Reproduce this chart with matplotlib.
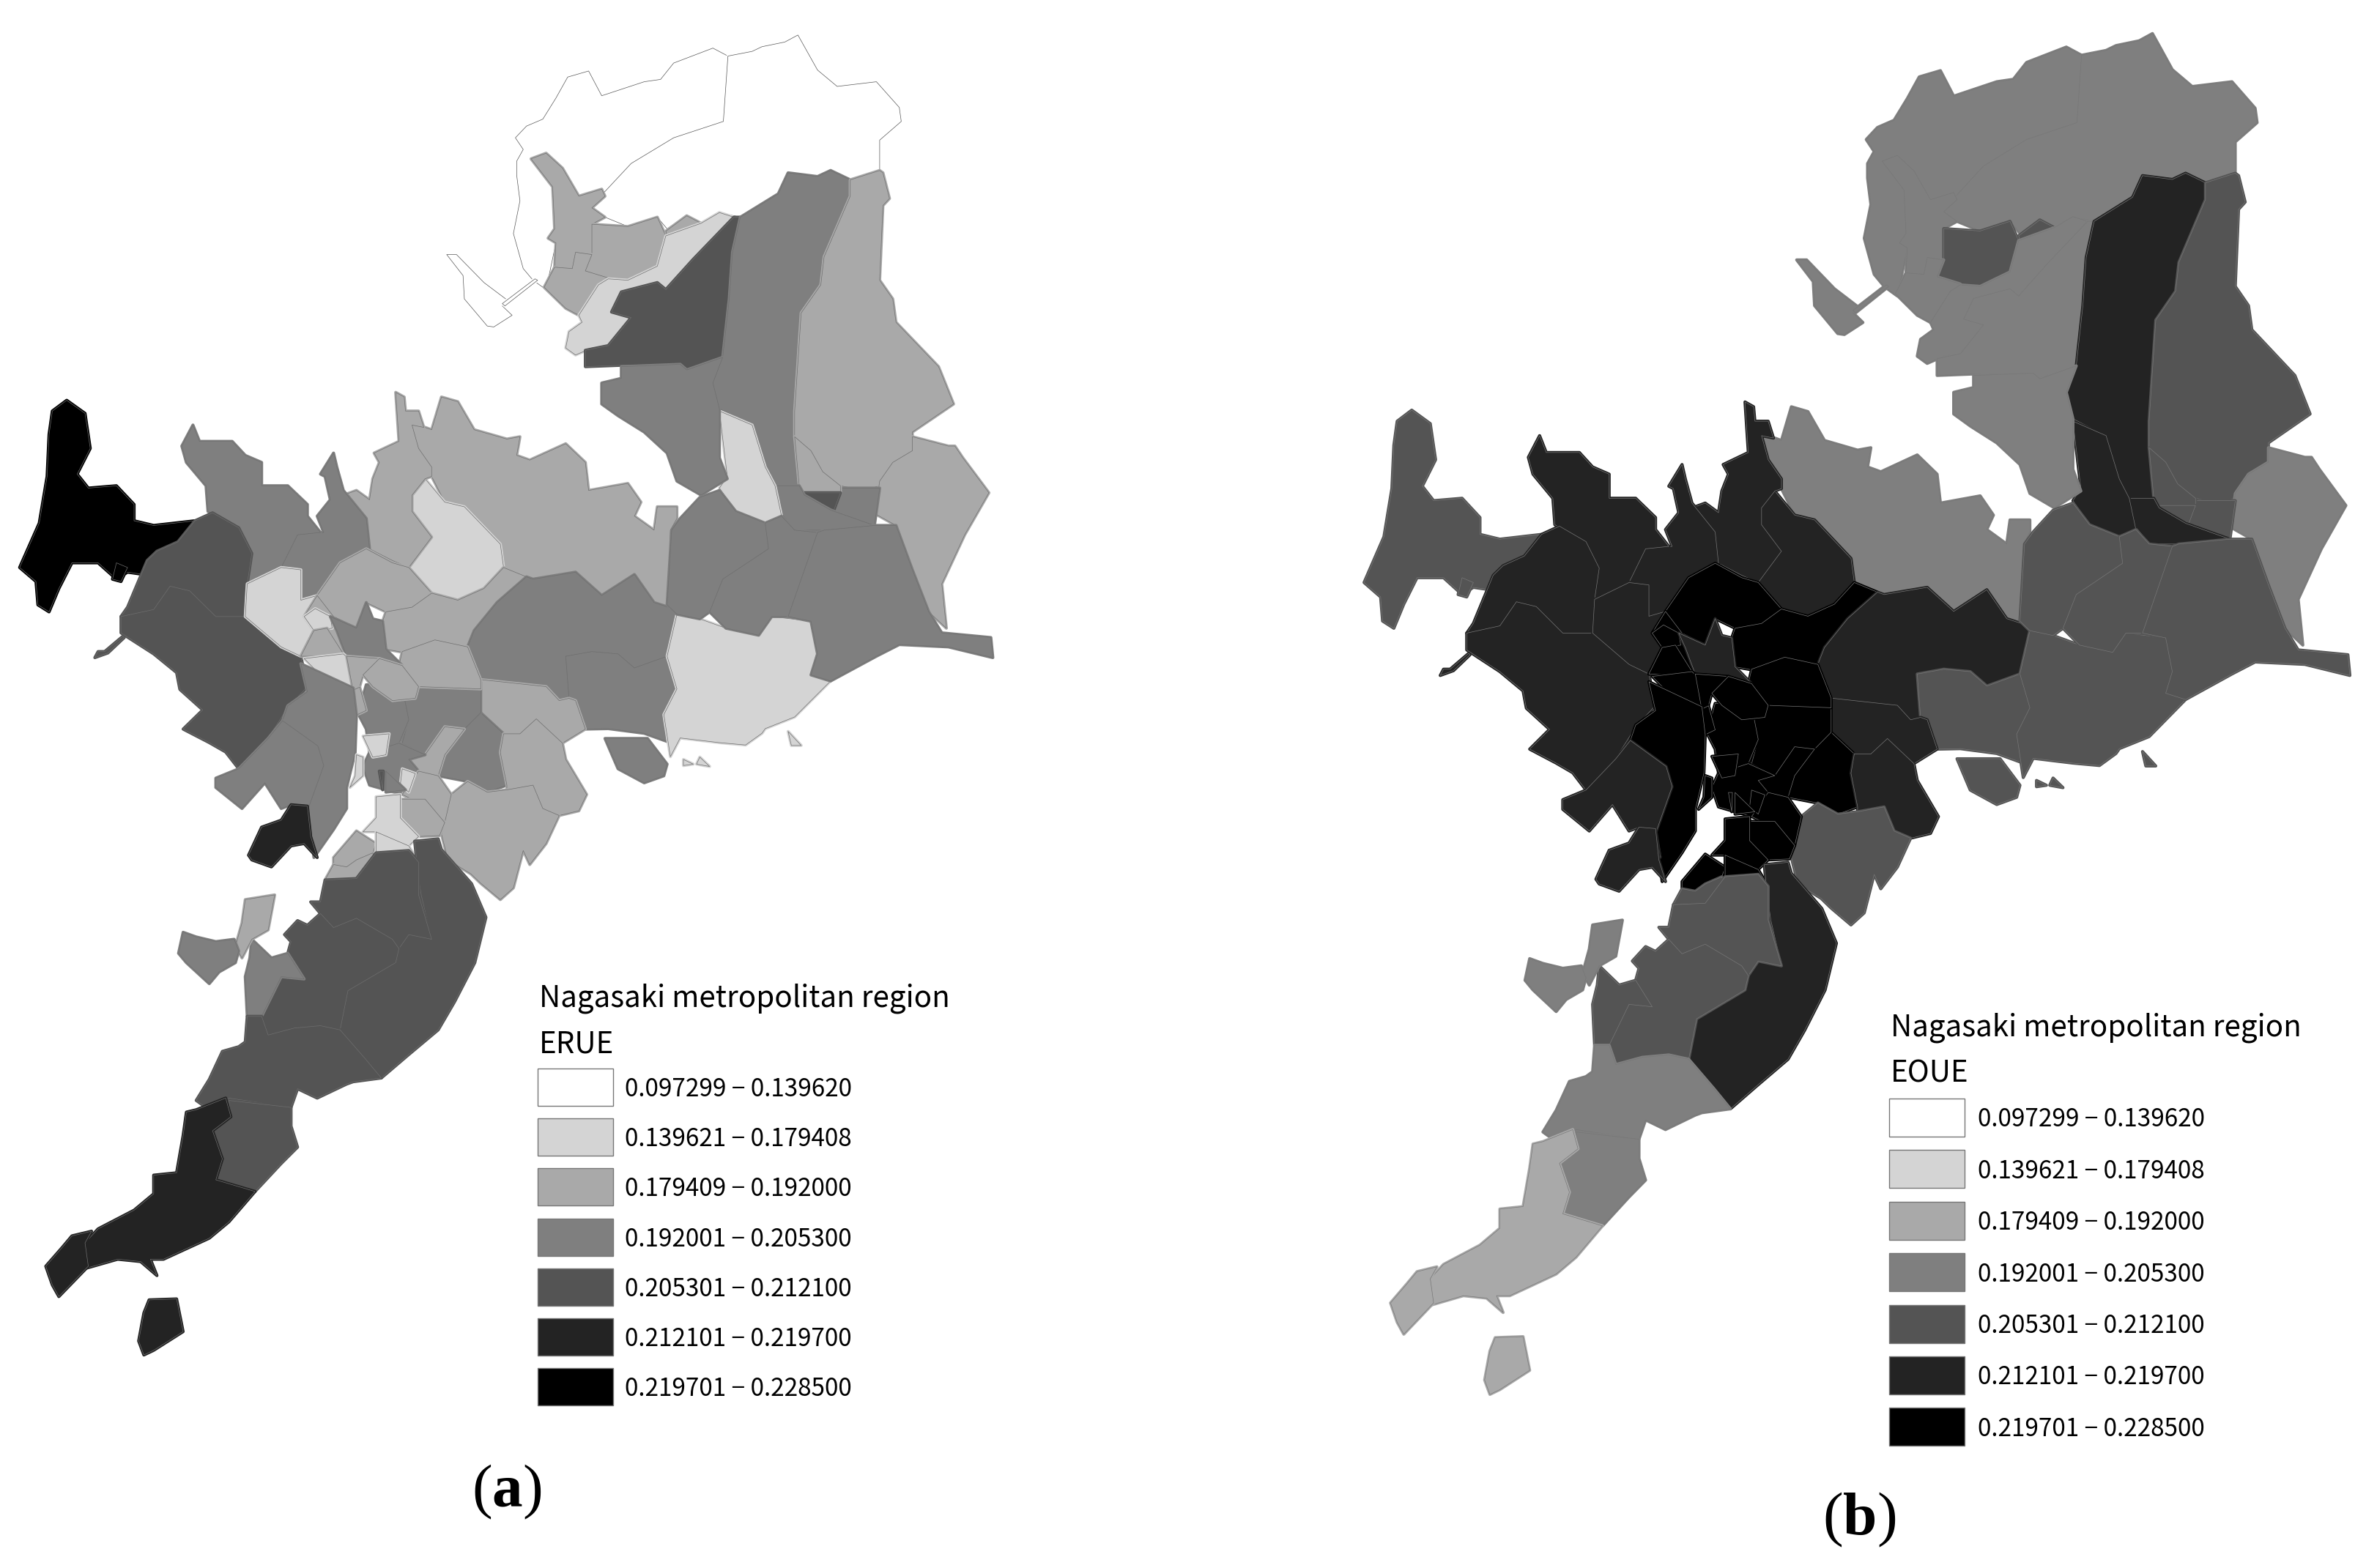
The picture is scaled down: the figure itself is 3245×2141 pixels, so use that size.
import matplotlib
matplotlib.use('Agg')
import matplotlib.pyplot as plt

plt.rcParams['mathtext.fontset'] = 'custom'
plt.rcParams['mathtext.bf'] = 'Liberation Serif:bold'
plt.rcParams['mathtext.rm'] = 'Liberation Serif'

# -------------- Legend data ----------------
class_labels = ["0.097299 − 0.139620", "0.139621 − 0.179408", "0.179409 − 0.192000",
                "0.192001 − 0.205300", "0.205301 − 0.212100", "0.212101 − 0.219700",
                "0.219701 − 0.228500"]
class_colors = ['#ffffff', '#d4d4d4', '#a9a9a9', '#7f7f7f', '#545454', '#232323', '#000000']


def low(pts):
    return [(x, y + 1411) for x, y in pts]


# -------------- Region outlines ----------------
north_left = [(790,345),(800,320),(788,295),(805,270),(830,255),(850,210),(868,165),(900,152),(920,205),(985,175),(1010,170),(1030,135),(1090,103),(1113,120),(1106,260),(1030,295),(965,350),(925,410),(890,440),(850,400),(848,500),(850,520),(835,620),(815,600),(800,575),(785,500),(795,430),(790,375)]
north_right = [(1113,120),(1150,110),(1165,100),(1200,90),(1220,75),(1250,150),(1280,185),(1340,175),(1375,230),(1378,260),(1345,300),(1345,365),(1300,385),(1270,365),(1250,378),(1205,370),(1190,415),(1132,465),(1100,455),(1072,478),(1050,462),(1020,490),(1005,465),(960,485),(925,465),(890,440),(925,410),(965,350),(1030,295),(1106,260)]
pier_island = [(683,545),(698,545),(740,605),(778,645),(768,655),(783,675),(755,700),(745,698),(710,640),(708,590)]
pier_link = [(768,650),(818,597),(822,600),(772,655)]
gray_strip = [(812,340),(835,328),(860,360),(885,420),(920,405),(925,420),(905,445),(925,465),(905,480),(905,545),(880,540),(875,575),(848,572),(850,520),(838,510),(848,490),(845,400)]
inner_block = [(905,480),(960,485),(1005,465),(1018,505),(1005,570),(960,600),(930,595),(895,580),(905,545)]
inner_arm = [(1018,495),(1050,462),(1072,478),(1020,505)]
west_shore = [(848,572),(875,575),(880,540),(905,545),(895,580),(930,595),(915,610),(885,675),(865,660),(832,615)]
light_strip = [(1072,478),(1100,455),(1122,465),(1060,555),(1018,620),(1005,605),(950,625),(935,668),(965,680),(930,740),(905,745),(880,760),(865,745),(870,710),(890,690),(885,675),(915,610),(930,597),(960,600),(1005,570),(1018,505)]
dark_wedge = [(1132,465),(1120,540),(1115,640),(1105,765),(1050,790),(1040,780),(950,782),(895,785),(895,750),(930,740),(965,680),(935,668),(950,625),(1005,605),(1018,620),(1060,555),(1122,465)]
column = [(1132,465),(1190,415),(1205,370),(1250,378),(1270,365),(1300,385),(1300,420),(1260,550),(1255,610),(1225,670),(1215,880),(1215,935),(1222,1040),(1215,1045),(1185,1040),(1170,1000),(1150,910),(1100,875),(1090,820),(1105,765),(1115,640),(1120,540)]
east_large = [(1300,385),(1345,365),(1350,370),(1360,425),(1350,440),(1345,600),(1365,640),(1370,690),(1435,785),(1458,865),(1395,925),(1395,965),(1365,990),(1345,1040),(1320,1050),(1285,1040),(1258,1010),(1240,965),(1215,935),(1215,880),(1225,670),(1255,610),(1260,550),(1300,420)]
east_coast = [(1395,935),(1450,955),(1460,955),(1472,980),(1512,1055),(1475,1145),(1440,1250),(1447,1345),(1420,1310),(1395,1220),(1370,1125),(1338,1100),(1345,1030),(1365,990),(1395,965)]
east_block = [(1285,1045),(1345,1045),(1337,1125),(1270,1095)]
east_sliver = [(1215,935),(1240,965),(1258,1010),(1285,1040),(1285,1055),(1230,1055),(1222,1040)]
east_tiny = [(1230,1055),(1285,1055),(1275,1092),(1250,1075),(1230,1065)]
column_foot = [(1180,1040),(1222,1040),(1230,1060),(1270,1092),(1337,1125),(1260,1135),(1215,1135),(1195,1100)]
light_column = [(1100,880),(1150,910),(1170,1000),(1185,1040),(1195,1105),(1165,1120),(1125,1095),(1100,1045),(1112,1020)]
bay_west = [(950,785),(1040,780),(1050,792),(1105,765),(1090,820),(1100,875),(1100,980),(1112,1025),(1072,1060),(1035,1030),(1020,970),(985,925),(945,890),(920,865),(920,820),(950,810)]
center_band = [(630,910),(650,915),(660,920),(675,850),(700,860),(725,920),(775,940),(795,935),(790,975),(810,985),(865,950),(895,990),(900,1050),(960,1035),(980,1075),(970,1105),(1000,1135),(1005,1085),(1035,1085),(1035,1110),(1025,1135),(1022,1300),(1000,1290),(970,1230),(920,1275),(880,1225),(815,1240),(770,1215),(765,1165),(710,1085),(680,1075),(660,1020),(660,1000),(640,960)]
light_oval = [(650,1025),(680,1075),(710,1085),(765,1165),(770,1215),(740,1260),(700,1285),(660,1270),(625,1215),(660,1150),(630,1095),(630,1060)]
north_cape = [(605,840),(618,850),(620,880),(640,880),(648,915),(630,910),(640,960),(660,1000),(660,1020),(650,1025),(630,1060),(630,1095),(660,1150),(625,1215),(600,1200),(565,1175),(555,1105),(525,1060),(545,1050),(565,1070),(570,1025),(580,990),(572,970),(610,945)]
inlet_west = [(510,970),(515,1000),(525,1050),(560,1110),(565,1175),(520,1205),(485,1275),(460,1285),(455,1270),(460,1220),(430,1215),(455,1145),(495,1140),(485,1105),(505,1070),(497,1020),(490,1015)]
nw_gray = [(295,910),(305,945),(355,945),(375,975),(400,990),(400,1040),(440,1040),(470,1080),(470,1105),(490,1140),(455,1145),(430,1215),(378,1250),(365,1130),(318,1095),(315,1040),(285,990),(278,955)]
black_pen = [(102,857),(130,885),(138,960),(118,1015),(135,1045),(178,1040),(205,1080),(205,1115),(235,1125),(298,1115),(285,1160),(300,1180),(280,1180),(272,1160),(240,1180),(220,1230),(195,1225),(178,1240),(150,1205),(110,1205),(90,1260),(75,1310),(58,1295),(55,1245),(30,1215),(60,1120),(72,1020),(75,930),(80,880)]
black_pier = [(178,1205),(195,1215),(185,1245),(172,1240)]
west_upper = [(298,1115),(325,1098),(365,1130),(385,1185),(378,1250),(375,1320),(330,1320),(290,1265),(260,1255),(235,1305),(185,1320),(195,1300),(225,1200),(240,1180),(272,1160)]
west_lower = [(185,1320),(235,1305),(260,1255),(290,1265),(330,1320),(375,1320),(430,1385),(460,1405),(470,1470),(440,1515),(410,1580),(365,1646),(345,1610),(320,1590),(280,1561),(310,1520),(275,1476),(270,1440),(235,1400),(185,1355)]
west_tail = [(145,1408),(165,1398),(190,1365),(188,1362),(160,1395),(150,1395)]
light_west = [(378,1250),(430,1215),(460,1220),(460,1285),(485,1275),(465,1320),(480,1350),(460,1405),(430,1385),(375,1320)]
mid_a = [(560,1175),(600,1205),(625,1215),(660,1270),(630,1300),(590,1310),(560,1290),(545,1345),(510,1320),(485,1275),(520,1205)]
mid_b = [(660,1270),(700,1285),(740,1260),(770,1215),(805,1235),(760,1290),(725,1350),(715,1385),(665,1370),(630,1400),(590,1390),(585,1330),(590,1310),(630,1300)]
mid_east = [(805,1235),(815,1240),(880,1225),(920,1275),(970,1230),(1000,1290),(1022,1300),(1035,1315),(1020,1405),(970,1430),(945,1400),(905,1395),(865,1405),(870,1495),(855,1500),(835,1470),(735,1455),(715,1385),(725,1350),(760,1290)]
mid_se = [(865,1405),(905,1395),(945,1400),(970,1430),(1020,1405),(1035,1475),(1015,1530),(1025,1590),(985,1570),(930,1560),(895,1561),(880,1500),(870,1495)]
light_se = [(1035,1315),(1070,1325),(1110,1345),(1160,1360),(1180,1320),(1240,1330),(1250,1400),(1240,1445),(1270,1458),(1215,1535),(1170,1560),(1165,1570),(1140,1595),(1100,1590),(1040,1580),(1025,1620),(1015,1530),(1035,1475),(1020,1405)]
east_a = [(1027,1135),(1040,1110),(1070,1065),(1100,1050),(1125,1095),(1170,1120),(1175,1175),(1105,1240),(1085,1310),(1070,1325),(1035,1315),(1020,1295)]
east_b = [(1170,1120),(1195,1105),(1215,1135),(1250,1140),(1225,1240),(1205,1320),(1180,1320),(1160,1360),(1110,1345),(1085,1310),(1105,1240),(1175,1175)]
east_c = [(1250,1140),(1260,1135),(1337,1125),(1370,1125),(1395,1220),(1420,1310),(1440,1355),(1515,1365),(1518,1408),(1450,1385),(1375,1380),(1340,1405),(1270,1458),(1240,1445),(1250,1400),(1240,1330),(1205,1320),(1225,1240)]
south_mid = [(735,1455),(835,1470),(855,1500),(870,1495),(880,1500),(895,1561),(860,1591),(820,1539),(795,1571),(770,1571),(735,1526),(735,1461)]
ward_a = low([(735,115),(770,160),(765,200),(775,270),(745,285),(715,262),(670,250),(680,205),(710,150)])
ward_b = low([(795,160),(820,128),(860,180),(865,215),(897,290),(885,325),(855,335),(830,320),(815,270),(775,280),(775,270),(765,200),(770,160)])
ward_c = low([(680,350),(690,290),(715,262),(745,285),(775,280),(815,270),(830,320),(855,335),(835,395),(810,440),(800,410),(785,490),(765,515),(735,480),(720,460),(685,430),(675,375)])
ward_d = low([(615,60),(735,50),(735,115),(710,150),(680,145),(650,205),(615,180),(625,130)])
ward_e = low([(560,55),(615,60),(625,130),(610,180),(565,200),(560,150),(545,110),(555,80)])
ward_f = [(615,1395),(665,1370),(715,1385),(735,1455),(735,1475),(640,1470),(610,1425)]
ward_g = [(505,1320),(545,1345),(560,1290),(570,1325),(585,1330),(590,1390),(615,1425),(580,1410),(530,1405),(515,1350)]
ward_m = [(485,1275),(510,1320),(530,1405),(460,1405),(480,1350),(465,1320)]
ward_n = [(465,1320),(482,1303),(505,1320),(508,1345),(480,1350)]
ward_h = [(460,1405),(480,1350),(500,1345),(525,1400),(530,1405)]
ward_i = [(465,1410),(525,1400),(540,1420),(540,1475),(490,1445)]
ward_j = [(530,1405),(580,1410),(555,1445),(550,1470),(540,1480)]
ward_k = [(580,1410),(615,1425),(640,1470),(635,1495),(600,1500),(570,1470),(555,1445)]
ward_l = low([(535,70),(550,60),(560,110),(545,120),(535,100)])
lake_upper = low([(460,10),(540,62),(545,120),(543,200),(530,275),(530,320),(510,365),(480,425),(470,325),(495,228),(486,186),(432,132),(440,100),(470,70)])
lake_lower = low([(432,132),(486,186),(495,228),(470,325),(477,375),(470,315),(445,312),(430,320),(405,265),(370,320),(330,275),(330,255),(365,235),(410,170)])
dark_isle = low([(445,312),(470,315),(475,380),(485,425),(465,395),(445,400),(415,445),(385,430),(380,420),(400,360),(430,345)])
core_a = low([(650,205),(680,145),(710,150),(680,205),(670,250),(640,240),(625,215)])
core_b = low([(565,200),(610,180),(650,205),(625,215),(640,240),(615,290),(565,270),(555,230)])
core_c = low([(640,240),(670,250),(690,290),(680,350),(650,300),(630,300),(615,290)])
core_d = low([(612,300),(650,300),(680,350),(672,378),(640,380),(612,340)])
core_e = low([(575,295),(612,290),(612,340),(640,380),(625,400),(575,370),(555,370),(575,340)])
core_f = low([(555,165),(595,160),(590,205),(570,210)])
core_g = low([(545,205),(555,210),(555,250),(535,275),(543,250)])
core_h = low([(615,235),(635,245),(625,285),(612,270)])
core_i = low([(590,240),(620,280),(590,285)])
core_j = low([(580,240),(586,240),(585,280)])
south_a = low([(510,425),(545,368),(575,395),(570,415),(545,430),(530,445),(510,440)])
south_b = low([(497,473),(510,440),(530,445),(545,430),(570,415),(575,440),(545,470)])
south_c = low([(575,370),(625,400),(640,435),(610,420),(575,415)])
south_d = low([(634,390),(670,385),(675,408),(721,481),(743,553),(726,650),(695,734),(670,794),(624,848),(583,897),(558,855),(520,794),(532,710),(605,650),(610,620),(625,590),(660,600),(644,505),(639,457)])
south_e = low([(497,473),(545,470),(575,415),(625,410),(640,435),(640,505),(660,600),(625,590),(610,620),(600,600),(545,555),(510,575),(490,545),(475,520),(490,520)])
south_f = low([(545,555),(600,600),(610,620),(605,650),(532,710),(520,794),(490,785),(450,790),(410,805),(400,765),(430,680),(465,685),(440,630),(445,605),(435,590),(455,560),(470,570),(490,545),(510,575)])
south_g = low([(385,600),(415,640),(440,630),(465,685),(430,680),(400,765),(378,765),(375,680),(382,640)])
isle_a = low([(375,515),(420,505),(410,580),(385,600),(370,640),(360,615),(370,565)])
isle_b = low([(280,585),(300,595),(330,605),(358,600),(365,625),(360,650),(335,670),(320,695),(285,650),(273,630)])
tip_a = low([(378,765),(400,765),(410,805),(450,790),(490,785),(520,794),(558,855),(583,897),(540,905),(530,910),(485,940),(455,920),(445,960),(350,940),(320,965),(300,945),(320,900),(340,840),(365,830),(375,820)])
tip_b = low([(350,945),(445,960),(445,1000),(455,1045),(430,1080),(390,1140),(330,1115),(340,1070),(325,1010),(353,980)])
tip_c = low([(345,940),(353,980),(325,1010),(340,1070),(330,1115),(390,1140),(350,1205),(320,1240),(250,1285),(230,1285),(240,1320),(215,1290),(180,1285),(130,1305),(130,1250),(150,1220),(205,1180),(235,1145),(235,1105),(270,1100),(280,1020),(285,970),(300,965)])
tip_d = low([(110,1235),(140,1225),(130,1250),(135,1300),(90,1365),(80,1340),(70,1300),(95,1260)])
tip_island = low([(228,1372),(270,1370),(280,1440),(235,1480),(220,1490),(212,1460),(220,1400)])
bay_isle = low([(925,170),(990,170),(1020,225),(1015,250),(985,265),(945,235)])
islet_a = low([(1205,155),(1225,185),(1210,185)])
islet_b = low([(1070,210),(1085,230),(1065,225)])
islet_c = low([(1045,215),(1060,225),(1045,228)])

region_outlines = [north_left, north_right, pier_island, pier_link, gray_strip, inner_block, inner_arm, west_shore,
                   light_strip, dark_wedge, column, east_large, east_coast, east_block, east_sliver, east_tiny,
                   column_foot, light_column, bay_west, center_band, light_oval, north_cape, inlet_west, nw_gray,
                   black_pen, black_pier, west_upper, west_lower, west_tail, light_west, mid_a, mid_b, mid_east,
                   mid_se, light_se, east_a, east_b, east_c, south_mid, ward_a, ward_b, ward_c, ward_d, ward_e,
                   ward_f, ward_m, ward_n, ward_g, ward_h, ward_i, ward_j, ward_k, ward_l, lake_upper, lake_lower, dark_isle,
                   core_a, core_b, core_c, core_d, core_e, core_f, core_g, core_h, core_i, core_j,
                   south_a, south_b, south_c, south_d, south_e, south_f, south_g, isle_a, isle_b,
                   tip_a, tip_b, tip_c, tip_d, tip_island, bay_isle, islet_a, islet_b, islet_c]

# class index of every region, same order as region_outlines
erue_class = [0, 0, 0, 0, 2, 2, 2, 2, 1, 4, 3, 2, 2, 3, 2, 4, 3, 1, 3, 2, 1, 2, 3, 3, 6, 6, 4, 4, 4, 1, 2, 2, 3, 3, 1,
              3, 3, 3, 2, 3, 2, 2, 3, 3, 2, 2, 1, 3, 2, 1, 2, 2, 2, 3, 3, 5,
              2, 3, 2, 2, 1, 1, 1, 1, 3, 4, 2, 2, 1, 4, 4, 4, 3, 2, 3, 4, 4, 5, 5, 5, 3, 1, 1, 1]
eoue_class = [3, 3, 3, 3, 3, 4, 4, 3, 3, 3, 5, 4, 3, 4, 4, 4, 5, 5, 3, 3, 5, 5, 5, 5, 4, 4, 5, 5, 5, 5, 6, 6, 5, 4, 4,
              4, 4, 4, 5, 6, 5, 4, 6, 6, 6, 6, 6, 5, 6, 6, 6, 6, 6, 6, 5, 5,
              6, 6, 6, 6, 6, 6, 6, 6, 6, 6, 6, 4, 6, 5, 4, 4, 4, 3, 3, 3, 3, 2, 2, 2, 4, 4, 4, 4]

fig = plt.figure(figsize=(32.45, 21.41), dpi=100)
ax = fig.add_axes([0, 0, 1, 1])
ax.set_xlim(0, 3245)
ax.set_ylim(2141, 0)
ax.axis('off')


# -------------- Draw one map panel ----------------
def draw_map(classes, x0, y0, sx, sy, edge):
    for pts, c in zip(region_outlines, classes):
        xs = [x0 + sx * p[0] / 1.12 for p in pts]
        ys = [y0 + sy * p[1] / 1.568 for p in pts]
        # thick same-colour edge closes the slivers between hand-read neighbours
        ax.fill(xs, ys, facecolor=class_colors[c], edgecolor=class_colors[c], linewidth=3, joinstyle='round')
        line = edge if c > 0 else '#555555'
        ax.fill(xs, ys, facecolor='none', edgecolor=line, linewidth=0.5, joinstyle='round')


# -------------- Draw one legend ----------------
def draw_legend(name, x, title_y, name_y, first_y, step, w, h, label_x):
    ax.text(x, title_y, "Nagasaki metropolitan region", fontsize=29, family='Noto Sans CJK JP',
            va='baseline', ha='left')
    ax.text(x, name_y, name, fontsize=29, family='Noto Sans CJK JP', va='baseline', ha='left')
    for i, (lab, col) in enumerate(zip(class_labels, class_colors)):
        y = first_y + i * step
        ax.add_patch(plt.Rectangle((x - 2, y), w, h, facecolor=col, edgecolor='#777777', linewidth=1))
        ax.text(label_x, y + h / 2 + 3, lab, fontsize=24, family='Noto Sans CJK JP', va='center', ha='left')


draw_map(erue_class, 0, 0, 1.0, 1.0, '#6e6e6e')
draw_map(eoue_class, 1835, -3.5, 1.013, 1.031, '#777777')

draw_legend("ERUE", 736, 1375, 1437, 1459, 68.2, 103, 51, 853)
draw_legend("EOUE", 2581, 1415, 1478, 1500, 70.4, 103, 52, 2700)

ax.text(692, 2037, r'($\mathbf{a}$)', fontsize=60, family='Liberation Serif', ha='center', va='center')
ax.text(2538, 2075, r'($\mathbf{b}$)', fontsize=60, family='Liberation Serif', ha='center', va='center')

fig.savefig('out.png', dpi=100, facecolor='white')
